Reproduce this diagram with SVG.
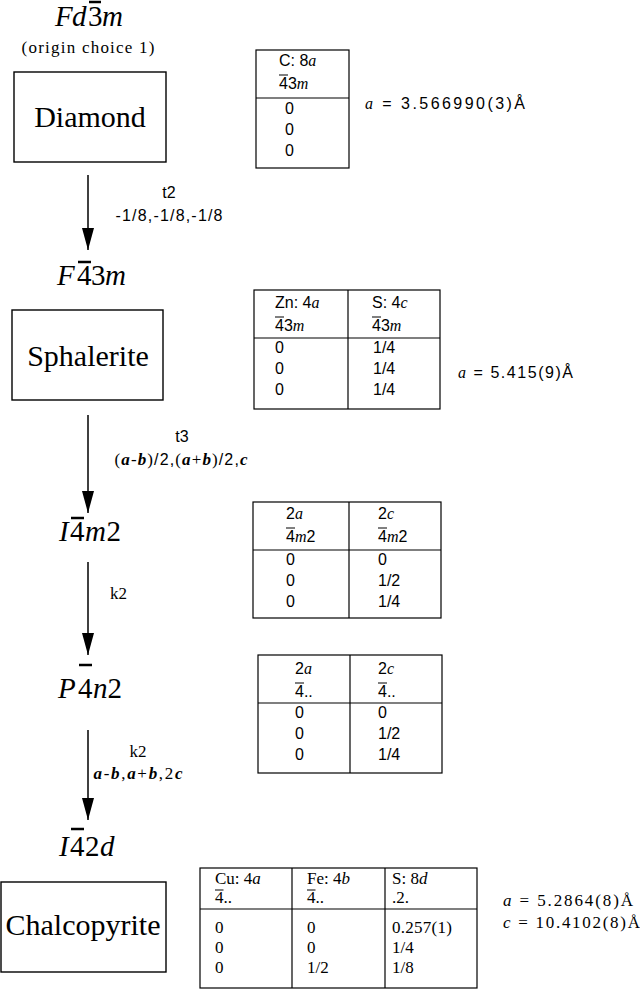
<svg xmlns="http://www.w3.org/2000/svg" width="640" height="990" viewBox="0 0 640 990">
<defs>
<style>
.bx{fill:none;stroke:#000;stroke-width:1.4}
.tl{stroke:#000;stroke-width:1.2;fill:none}
.sg{font-family:"Liberation Serif",serif;font-size:29px;fill:#000}
.nm{font-family:"Liberation Serif",serif;font-size:30px;text-anchor:middle}
.s{font-family:"Liberation Sans",sans-serif;font-size:16px}
.r{font-family:"Liberation Serif",serif;font-size:17px}
.i{font-family:"Liberation Serif",serif;font-style:italic}
.b{font-weight:bold}
.bar{stroke:#000;stroke-width:2.5}
.tbar{stroke:#000;stroke-width:1}
.ar{stroke:#000;stroke-width:1.5}
.mid{text-anchor:middle}
</style>
<marker id="ah" viewBox="0 -6 22 12" refX="22" refY="0" markerWidth="22" markerHeight="12" markerUnits="userSpaceOnUse" orient="auto"><path d="M0,-6L22,0L0,6z" fill="#000"/></marker>
</defs>
<rect width="640" height="990" fill="#fff"/>

<g id="sg-Fd-3m">
<text class="sg" y="26"><tspan class="i" x="55">F</tspan><tspan class="i" x="72">d</tspan><tspan x="88">3</tspan><tspan class="i" x="102">m</tspan></text>
<line class="bar" x1="89" y1="2" x2="101" y2="2"/>
<text class="r" x="88" y="53" text-anchor="middle" textLength="133">(origin choice 1)</text>
</g>
<g id="diamond">
<rect class="bx" x="14" y="72" width="152" height="90"/>
<text class="nm" x="90" y="127">Diamond</text>
</g>
<g id="table-diamond">
<rect class="tl" x="256" y="50" width="93" height="118"/>
<line class="tl" x1="256" y1="98" x2="349" y2="98"/>
<text class="s" x="279" y="66">C: 8<tspan class="i">a</tspan></text>
<text class="s" x="279" y="89">43<tspan class="i">m</tspan></text>
<line class="tbar" x1="279" y1="75" x2="288" y2="75"/>
<text class="s" x="285" y="114">0</text>
<text class="s" x="285" y="135">0</text>
<text class="s" x="285" y="156">0</text>
<text class="s" x="365" y="109" font-size="17" textLength="160"><tspan class="i">a</tspan> = 3.566990(3)Å</text>
</g>

<g id="sg-F-43m">
<text class="sg" y="285"><tspan class="i" x="57">F</tspan><tspan x="77">4</tspan><tspan x="91">3</tspan><tspan class="i" x="105">m</tspan></text>
<line class="bar" x1="78" y1="262" x2="91" y2="262"/>
</g>
<g id="sphalerite">
<rect class="bx" x="12" y="310" width="151" height="90"/>
<text class="nm" x="88" y="366">Sphalerite</text>
</g>
<g id="table-sphalerite">
<rect class="tl" x="254" y="290" width="186" height="119"/>
<line class="tl" x1="348" y1="290" x2="348" y2="409"/>
<line class="tl" x1="254" y1="338" x2="440" y2="338"/>
<text class="s" x="275" y="308">Zn: 4<tspan class="i">a</tspan></text>
<text class="s" x="275" y="331">43<tspan class="i">m</tspan></text>
<line class="tbar" x1="275" y1="317" x2="284" y2="317"/>
<text class="s" x="372" y="308">S: 4<tspan class="i">c</tspan></text>
<text class="s" x="372" y="331">43<tspan class="i">m</tspan></text>
<line class="tbar" x1="372" y1="317" x2="381" y2="317"/>
<text class="s" x="275" y="353">0</text>
<text class="s" x="275" y="374">0</text>
<text class="s" x="275" y="395">0</text>
<text class="s" x="373" y="353">1/4</text>
<text class="s" x="373" y="374">1/4</text>
<text class="s" x="373" y="395">1/4</text>
<text class="s" x="458" y="378" font-size="17" textLength="115"><tspan class="i">a</tspan> = 5.415(9)Å</text>
</g>

<g id="sg-I-4m2">
<text class="sg" y="541"><tspan class="i" x="59">I</tspan><tspan x="70">4</tspan><tspan class="i" x="85">m</tspan><tspan x="106.5">2</tspan></text>
<line class="bar" x1="71" y1="518" x2="84" y2="518"/>
</g>
<g id="table-I-4m2">
<rect class="tl" x="253" y="502" width="188" height="116"/>
<line class="tl" x1="349" y1="502" x2="349" y2="618"/>
<line class="tl" x1="253" y1="550" x2="441" y2="550"/>
<text class="s" x="286" y="519">2<tspan class="i">a</tspan></text>
<text class="s" x="286" y="542">4<tspan class="i">m</tspan>2</text>
<line class="tbar" x1="286" y1="528" x2="295" y2="528"/>
<text class="s" x="378" y="519">2<tspan class="i">c</tspan></text>
<text class="s" x="378" y="542">4<tspan class="i">m</tspan>2</text>
<line class="tbar" x1="378" y1="528" x2="387" y2="528"/>
<text class="s" x="286" y="565">0</text>
<text class="s" x="286" y="586">0</text>
<text class="s" x="286" y="607">0</text>
<text class="s" x="378" y="565">0</text>
<text class="s" x="378" y="586">1/2</text>
<text class="s" x="378" y="607">1/4</text>
</g>

<g id="sg-P-4n2">
<text class="sg" y="698"><tspan class="i" x="58">P</tspan><tspan x="78">4</tspan><tspan class="i" x="93">n</tspan><tspan x="107.5">2</tspan></text>
<line class="bar" x1="79" y1="665" x2="92" y2="665"/>
</g>
<g id="table-P-4n2">
<rect class="tl" x="258" y="655" width="184" height="118"/>
<line class="tl" x1="350" y1="655" x2="350" y2="773"/>
<line class="tl" x1="258" y1="703" x2="442" y2="703"/>
<text class="s" x="295" y="674">2<tspan class="i">a</tspan></text>
<text class="s" x="295" y="697">4..</text>
<line class="tbar" x1="295" y1="683" x2="304" y2="683"/>
<text class="s" x="378" y="674">2<tspan class="i">c</tspan></text>
<text class="s" x="378" y="697">4..</text>
<line class="tbar" x1="378" y1="683" x2="387" y2="683"/>
<text class="s" x="295" y="718">0</text>
<text class="s" x="295" y="739">0</text>
<text class="s" x="295" y="760">0</text>
<text class="s" x="378" y="718">0</text>
<text class="s" x="378" y="739">1/2</text>
<text class="s" x="378" y="760">1/4</text>
</g>

<g id="sg-I-42d">
<text class="sg" y="856"><tspan class="i" x="59">I</tspan><tspan x="70">4</tspan><tspan x="85">2</tspan><tspan class="i" x="100">d</tspan></text>
<line class="bar" x1="71" y1="829" x2="84" y2="829"/>
</g>
<g id="chalcopyrite">
<rect class="bx" x="1" y="882" width="165" height="90"/>
<text class="nm" x="83" y="935">Chalcopyrite</text>
</g>
<g id="table-chalcopyrite">
<rect class="tl" x="200" y="868" width="277" height="120"/>
<line class="tl" x1="292" y1="868" x2="292" y2="988"/>
<line class="tl" x1="385" y1="868" x2="385" y2="988"/>
<line class="tl" x1="200" y1="909" x2="477" y2="909"/>
<text class="r" x="215" y="884">Cu: 4<tspan class="i">a</tspan></text>
<text class="r" x="215" y="903">4..</text>
<line class="tbar" x1="215" y1="890" x2="223.5" y2="890"/>
<text class="r" x="307" y="884">Fe: 4<tspan class="i">b</tspan></text>
<text class="r" x="307" y="903">4..</text>
<line class="tbar" x1="307" y1="890" x2="315.5" y2="890"/>
<text class="r" x="392" y="884">S: 8<tspan class="i">d</tspan></text>
<text class="r" x="392" y="903">.2.</text>
<text class="r" x="215" y="933">0</text>
<text class="r" x="215" y="953">0</text>
<text class="r" x="215" y="973">0</text>
<text class="r" x="307" y="933">0</text>
<text class="r" x="307" y="953">0</text>
<text class="r" x="307" y="973">1/2</text>
<text class="r" x="392" y="933" textLength="60">0.257(1)</text>
<text class="r" x="392" y="953">1/4</text>
<text class="r" x="392" y="973">1/8</text>
<text class="r" x="503" y="906" textLength="130"><tspan class="i">a</tspan> = 5.2864(8)Å</text>
<text class="r" x="503" y="928" textLength="137"><tspan class="i">c</tspan> = 10.4102(8)Å</text>
</g>

<g id="connectors">
<line class="ar" x1="88" y1="175" x2="88" y2="250" marker-end="url(#ah)"/>
<text class="s mid" x="169" y="198">t2</text>
<text class="s mid" x="169" y="221" textLength="107">-1/8,-1/8,-1/8</text>
<line class="ar" x1="88" y1="415" x2="88" y2="513" marker-end="url(#ah)"/>
<text class="s mid" x="182" y="442">t3</text>
<text class="mid" x="181" y="465" font-size="17" textLength="133"><tspan class="r">(</tspan><tspan class="i b">a</tspan><tspan class="r">-</tspan><tspan class="i b">b</tspan><tspan class="r">)</tspan><tspan class="s">/2,</tspan><tspan class="r">(</tspan><tspan class="i b">a</tspan><tspan class="r">+</tspan><tspan class="i b">b</tspan><tspan class="r">)</tspan><tspan class="s">/2,</tspan><tspan class="i b">c</tspan></text>
<line class="ar" x1="88" y1="562" x2="88" y2="655" marker-end="url(#ah)"/>
<text class="r" x="110" y="599">k2</text>
<line class="ar" x1="88" y1="730" x2="88" y2="820" marker-end="url(#ah)"/>
<text class="r mid" x="138" y="757">k2</text>
<text class="r mid" x="138" y="779" textLength="89"><tspan class="i b">a</tspan>-<tspan class="i b">b</tspan>,<tspan class="i b">a</tspan>+<tspan class="i b">b</tspan>,2<tspan class="i b">c</tspan></text>
</g>
</svg>
